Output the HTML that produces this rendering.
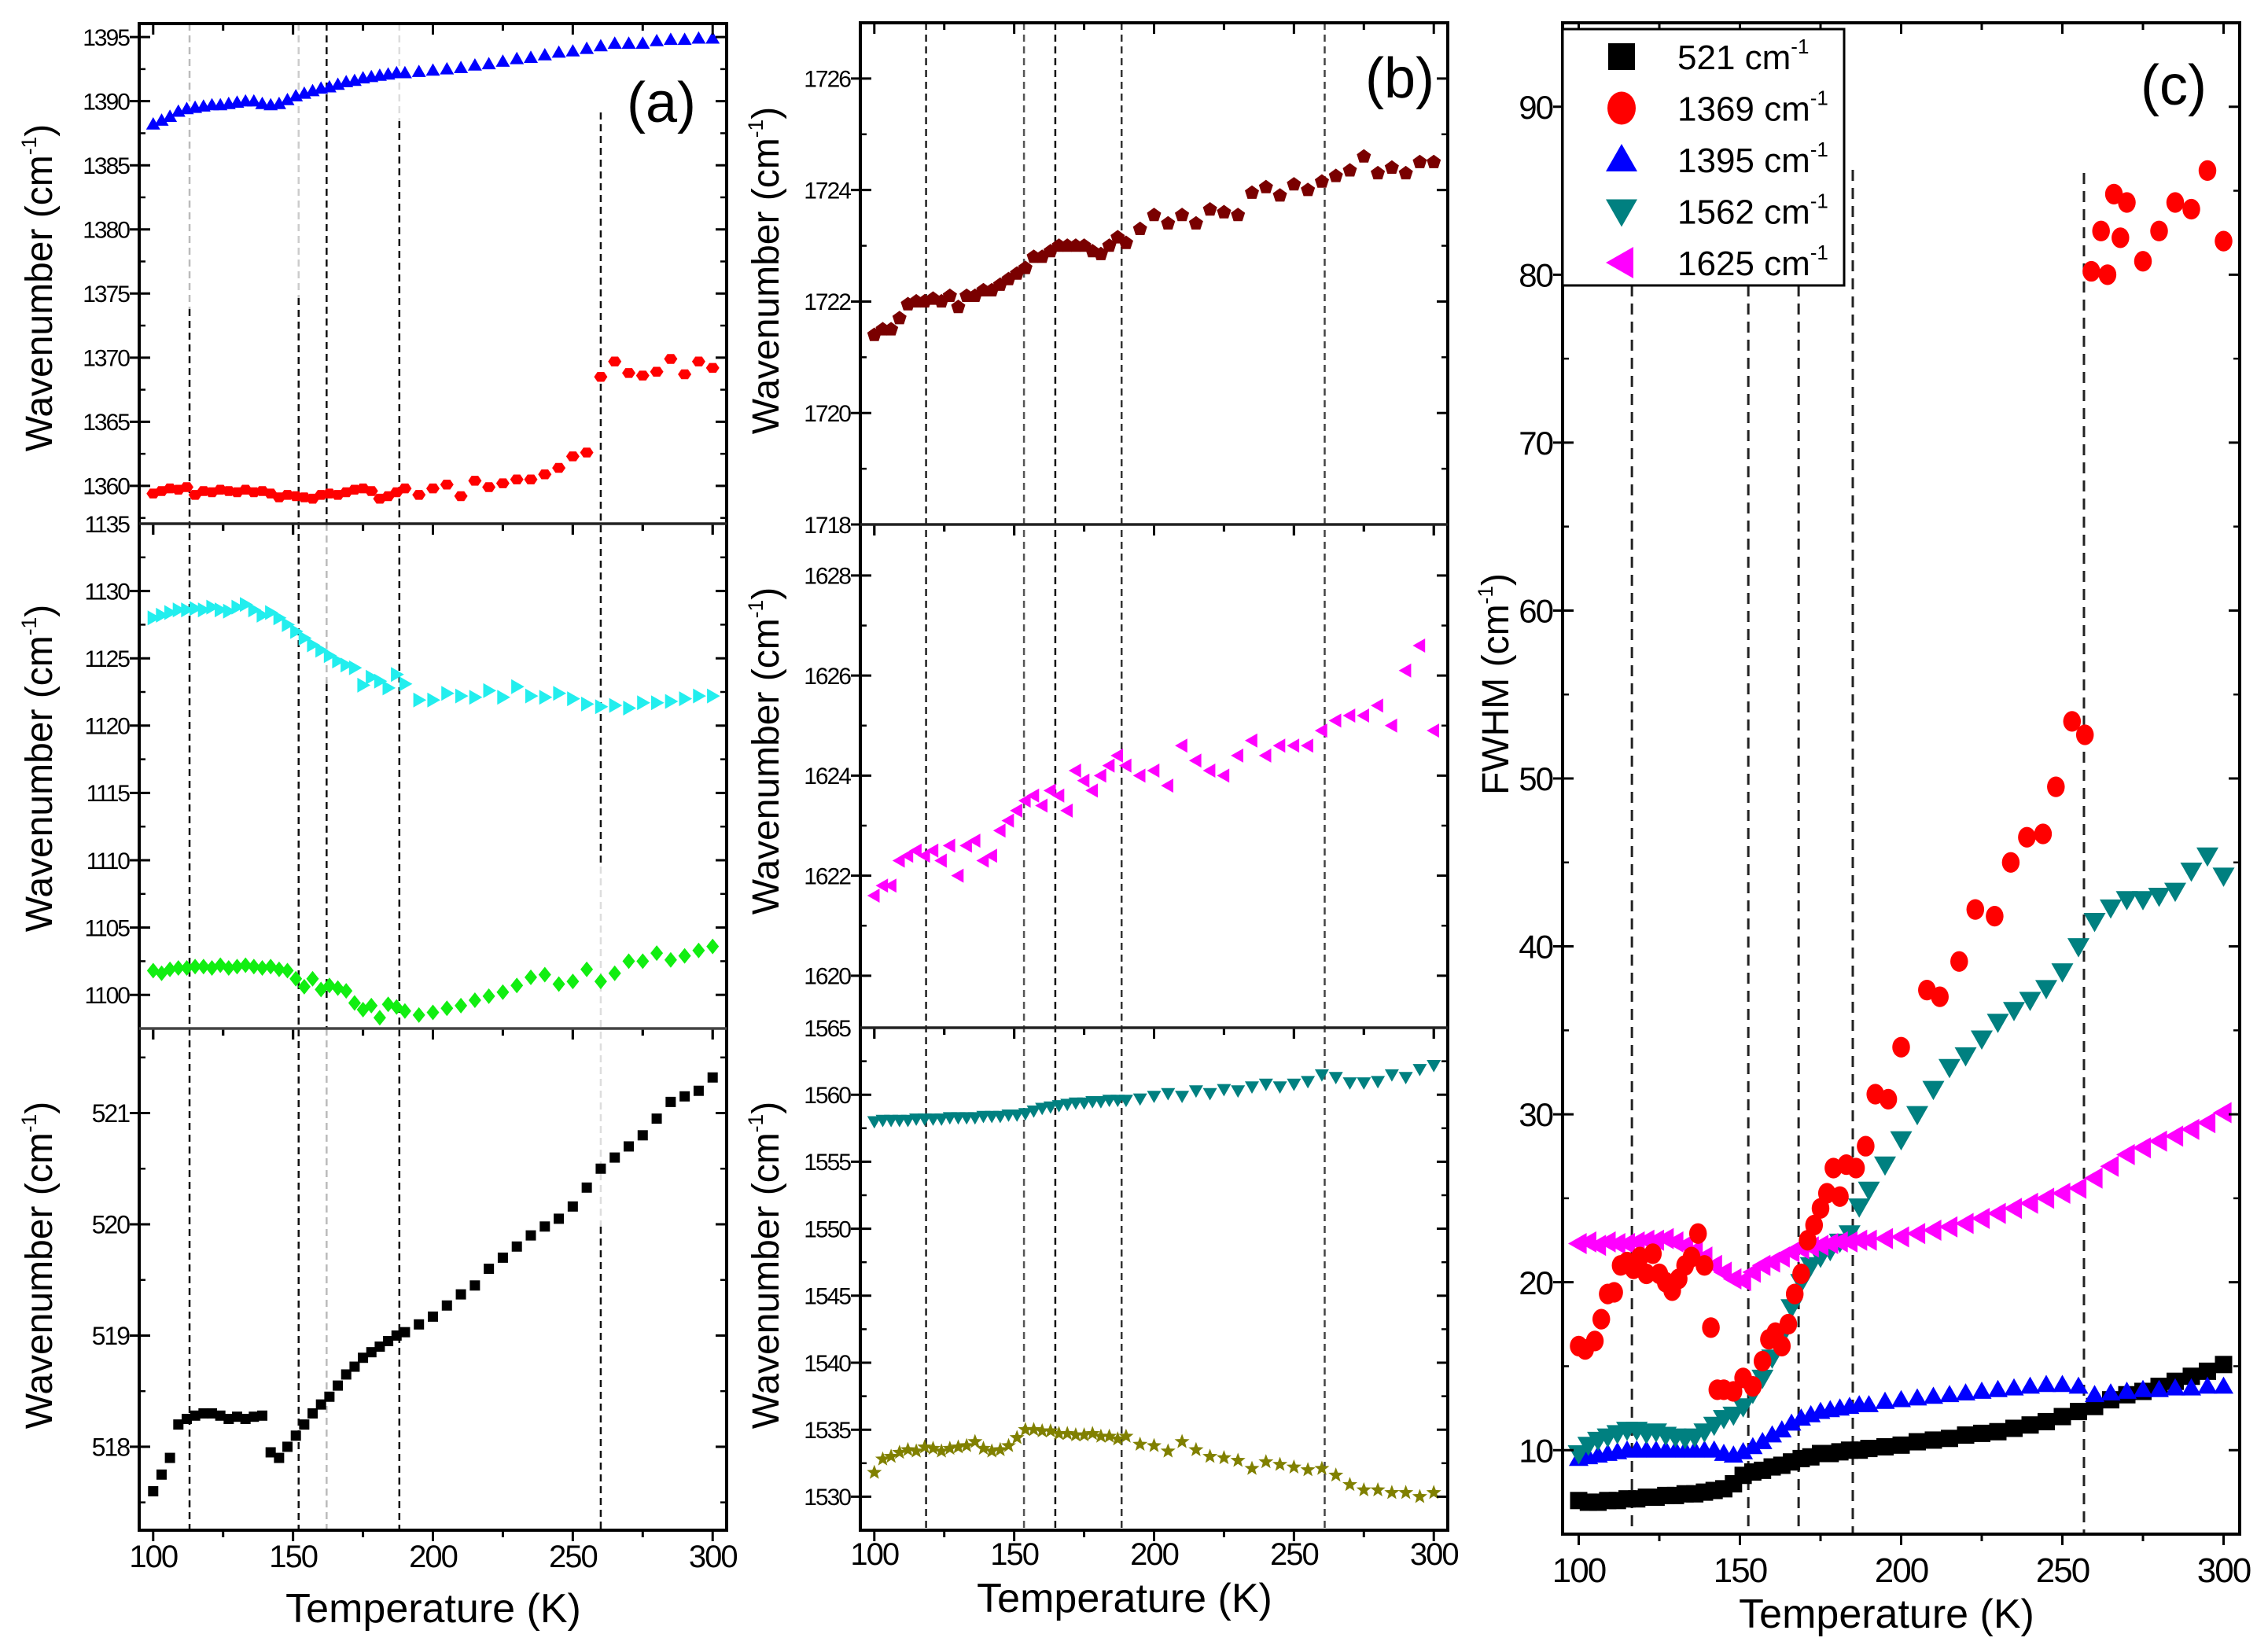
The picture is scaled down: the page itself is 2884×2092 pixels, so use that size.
<!DOCTYPE html>
<html><head><meta charset="utf-8"><style>
html,body{margin:0;padding:0;background:#fff;}
svg{display:block;font-family:"Liberation Sans",Arial,sans-serif;}
</style></head><body>
<svg id="fig" width="2884" height="2092" viewBox="0 0 2884 2092" xmlns="http://www.w3.org/2000/svg"></svg>
<script>
const T = [100,103,106,109,112,115,118,121,124,127,130,133,136,139,142,145,148,151,154,157,160,163,166,169,172,175,178,181,184,187,190,195,200,205,210,215,220,225,230,235,240,245,250,255,260,265,270,275,280,285,290,295,300];
const a1395 = [1388.2,1388.5,1388.8,1389.2,1389.4,1389.5,1389.6,1389.7,1389.7,1389.8,1389.9,1390,1390,1389.8,1389.7,1389.8,1390.1,1390.4,1390.6,1390.8,1391,1391.1,1391.3,1391.5,1391.6,1391.8,1391.9,1392,1392.1,1392.2,1392.2,1392.3,1392.4,1392.5,1392.6,1392.8,1392.9,1393.1,1393.3,1393.4,1393.6,1393.8,1393.9,1394.1,1394.3,1394.5,1394.5,1394.5,1394.7,1394.8,1394.8,1394.9,1394.9];
const a1369 = [1359.4,1359.6,1359.8,1359.7,1359.9,1359.3,1359.6,1359.5,1359.7,1359.6,1359.5,1359.7,1359.5,1359.6,1359.4,1359.1,1359.3,1359.2,1359.1,1359.0,1359.3,1359.4,1359.3,1359.5,1359.7,1359.8,1359.6,1359.0,1359.2,1359.5,1359.8,1359.3,1359.8,1360.1,1359.2,1360.4,1359.9,1360.2,1360.5,1360.5,1360.9,1361.4,1362.3,1362.6,1368.5,1369.7,1368.8,1368.6,1368.9,1369.9,1368.7,1369.7,1369.2];
const a1120 = [1128,1128.2,1128.4,1128.6,1128.6,1128.7,1128.6,1128.8,1128.6,1128.5,1128.8,1129,1128.6,1128.2,1128.4,1128,1127.5,1127,1126.5,1126,1125.6,1125.2,1124.8,1124.5,1124.3,1123,1123.6,1123.3,1122.8,1123.8,1123.1,1121.9,1121.9,1122.4,1122.2,1122.1,1122.6,1122.1,1122.9,1122.2,1122.1,1122.4,1122,1121.6,1121.4,1121.5,1121.3,1121.7,1121.7,1121.8,1122,1122.2,1122.2];
const a1102 = [1101.8,1101.6,1101.9,1102,1102,1102.1,1102.1,1102,1102.2,1102,1102.1,1102.2,1102.1,1102,1102.1,1101.9,1101.8,1101.2,1100.6,1101.2,1100.4,1100.7,1100.5,1100.3,1099.4,1098.9,1099.2,1098.3,1099.3,1099.1,1098.8,1098.5,1098.7,1099,1099.2,1099.6,1099.9,1100.2,1100.7,1101.3,1101.5,1100.8,1101,1101.9,1101,1101.6,1102.5,1102.5,1103.1,1102.6,1102.9,1103.3,1103.6];
const a521 = [517.6,517.75,517.9,518.2,518.25,518.28,518.3,518.3,518.28,518.25,518.27,518.25,518.27,518.28,517.95,517.9,518.0,518.1,518.2,518.3,518.38,518.45,518.55,518.65,518.72,518.8,518.85,518.9,518.95,519.0,519.03,519.1,519.17,519.27,519.37,519.45,519.6,519.7,519.8,519.9,519.98,520.05,520.16,520.33,520.5,520.6,520.7,520.8,520.95,521.1,521.15,521.2,521.32];
const b1725 = [1721.4,1721.5,1721.5,1721.7,1721.95,1722,1722,1722.05,1722.0,1722.1,1721.9,1722.1,1722.1,1722.2,1722.2,1722.3,1722.4,1722.5,1722.6,1722.8,1722.8,1722.9,1723,1723,1723,1723,1722.9,1722.85,1723.0,1723.15,1723.05,1723.3,1723.55,1723.4,1723.55,1723.4,1723.65,1723.6,1723.55,1723.95,1724.05,1723.9,1724.1,1724.0,1724.15,1724.25,1724.35,1724.6,1724.3,1724.4,1724.3,1724.5,1724.5];
const b1625 = [1621.6,1621.8,1621.8,1622.3,1622.4,1622.5,1622.4,1622.5,1622.3,1622.6,1622,1622.6,1622.7,1622.3,1622.4,1622.9,1623.1,1623.3,1623.5,1623.6,1623.4,1623.7,1623.6,1623.3,1624.1,1623.9,1623.7,1624,1624.2,1624.4,1624.2,1624.0,1624.1,1623.8,1624.6,1624.3,1624.1,1624.0,1624.4,1624.7,1624.4,1624.6,1624.6,1624.6,1624.9,1625.1,1625.2,1625.2,1625.4,1625.0,1626.1,1626.6,1624.9];
const b1562 = [1558.0,1558.1,1558.1,1558.1,1558.1,1558.2,1558.2,1558.2,1558.2,1558.3,1558.3,1558.3,1558.3,1558.4,1558.4,1558.4,1558.5,1558.5,1558.6,1558.8,1559.0,1559.1,1559.2,1559.3,1559.4,1559.4,1559.5,1559.5,1559.6,1559.6,1559.6,1559.7,1559.9,1560.1,1559.9,1560.3,1560.1,1560.4,1560.3,1560.6,1560.8,1560.6,1560.8,1561.0,1561.5,1561.3,1560.9,1560.9,1561.0,1561.5,1561.3,1561.9,1562.2];
const b1530 = [1531.8,1532.8,1533.0,1533.3,1533.5,1533.4,1533.7,1533.6,1533.4,1533.6,1533.7,1533.8,1534.1,1533.6,1533.4,1533.5,1533.8,1534.4,1535,1535.0,1534.9,1534.9,1534.7,1534.7,1534.6,1534.6,1534.7,1534.5,1534.5,1534.3,1534.5,1533.9,1533.8,1533.4,1534.1,1533.5,1533.0,1532.9,1532.7,1532.1,1532.6,1532.4,1532.2,1532.0,1532.1,1531.6,1530.9,1530.5,1530.5,1530.3,1530.3,1530.0,1530.3];
const c521 = [7.0,6.9,6.9,7.0,7.0,7.1,7.1,7.2,7.2,7.3,7.3,7.4,7.4,7.5,7.6,7.7,8.0,8.5,8.7,8.8,9.0,9.1,9.3,9.5,9.6,9.8,9.8,9.9,10.0,10.0,10.1,10.2,10.3,10.5,10.6,10.7,10.9,11.0,11.1,11.3,11.5,11.7,12.0,12.3,12.6,13.0,13.3,13.5,13.8,14.1,14.4,14.7,15.1];
const c1395 = [9.5,9.6,9.7,9.8,9.9,10.0,10.0,10.0,10.0,10.0,10.0,10.0,10.0,10.0,10.0,9.8,9.7,9.9,10.2,10.5,10.9,11.2,11.6,11.9,12.1,12.3,12.4,12.5,12.6,12.7,12.7,12.9,13.0,13.1,13.2,13.3,13.4,13.5,13.6,13.7,13.8,13.9,13.9,13.8,13.3,13.4,13.5,13.6,13.6,13.7,13.7,13.8,13.8];
const c1562 = [9.8,10.3,10.6,10.8,11.0,11.2,11.2,11.0,11.1,10.9,10.8,10.7,10.8,11.1,11.5,11.9,12.1,12.6,13.4,14.3,15.5,16.8,18.5,20.0,21.0,21.5,21.9,22.4,22.9,24.5,25.5,27.0,28.5,30.0,31.5,32.8,33.5,34.5,35.5,36.2,36.8,37.5,38.5,40.0,41.5,42.3,42.8,42.8,43.0,43.3,44.5,45.4,44.2];
const c1625 = [22.3,22.4,22.2,22.4,22.3,22.3,22.4,22.5,22.5,22.6,22.4,22.2,21.9,21.5,21.0,20.6,20.2,20.1,20.6,21.0,21.2,21.5,21.8,22.0,22.1,22.2,22.3,22.4,22.4,22.5,22.5,22.6,22.7,22.9,23.1,23.3,23.5,23.8,24.1,24.4,24.7,25.0,25.3,25.6,26.2,26.9,27.6,28.0,28.4,28.7,29.1,29.5,30.1];
const cRedT = [100,102,105,107,109,111,113,115,117,119,121,123,125,127,129,131,133,135,137,139,141,143,145,148,151,154,157,159,161,163,165,167,169,171,173,175,177,179,181,183,186,189,192,196,200,208,212,218,223,229,234,239,244,248,253,257,259,262,264,266,268,270,275,280,285,290,295,300];
const c1369 = [16.2,16.0,16.5,17.8,19.3,19.4,21.0,21.2,20.8,21.5,20.5,21.7,20.5,20.0,19.5,20.2,21.0,21.5,22.9,21.0,17.3,13.6,13.6,13.5,14.3,13.8,15.3,16.6,17.0,16.2,17.5,19.3,20.5,22.5,23.4,24.4,25.3,26.8,25.1,27.0,26.8,28.1,31.2,30.9,34.0,37.4,37.0,39.1,42.2,41.8,45.0,46.5,46.7,49.5,53.4,52.6,80.2,82.6,80.0,84.8,82.2,84.3,80.8,82.6,84.3,83.9,86.2,82.0];
const xTicks = [100,150,200,250,300];
const legendLabels = ['521','1369','1395','1562','1625'];

const NS='http://www.w3.org/2000/svg';
const svg=document.getElementById('fig');
function mk(tag,parent){const e=document.createElementNS(NS,tag);parent.appendChild(e);return e;}
function sx(p,t){return p.x0+(t-p.tmin)/(p.tmax-p.tmin)*(p.x1-p.x0);}
function sy(p,v){return p.y1-(v-p.vmin)/(p.vmax-p.vmin)*(p.y1-p.y0);}

function shapePts(shape,cx,cy,s){
  const h=s/2;let pts=[];
  if(shape==='up')pts=[[cx,cy-h],[cx+h,cy+h*0.75],[cx-h,cy+h*0.75]];
  else if(shape==='down')pts=[[cx,cy+h],[cx+h,cy-h*0.75],[cx-h,cy-h*0.75]];
  else if(shape==='left')pts=[[cx-h,cy],[cx+h*0.75,cy-h],[cx+h*0.75,cy+h]];
  else if(shape==='right')pts=[[cx+h,cy],[cx-h*0.75,cy-h],[cx-h*0.75,cy+h]];
  else if(shape==='diamond')pts=[[cx,cy-h],[cx+h*0.8,cy],[cx,cy+h],[cx-h*0.8,cy]];
  else if(shape==='hex'){for(let i=0;i<6;i++){const a=Math.PI/3*i;pts.push([cx+h*Math.cos(a),cy+h*0.85*Math.sin(a)]);}}
  else if(shape==='pent'){for(let i=0;i<5;i++){const a=-Math.PI/2+2*Math.PI/5*i;pts.push([cx+h*Math.cos(a),cy+h*Math.sin(a)]);}}
  else if(shape==='star'){for(let i=0;i<10;i++){const a=-Math.PI/2+Math.PI/5*i;const r=i%2?h*0.42:h;pts.push([cx+r*Math.cos(a),cy+r*Math.sin(a)]);}}
  return pts.map(q=>q[0].toFixed(1)+','+q[1].toFixed(1)).join(' ');
}
function marker(g,shape,cx,cy,s,color){
  let m;
  if(shape==='square'){m=mk('rect',g);m.setAttribute('x',cx-s/2);m.setAttribute('y',cy-s/2);m.setAttribute('width',s);m.setAttribute('height',s);}
  else if(shape==='circle'){m=mk('ellipse',g);m.setAttribute('cx',cx);m.setAttribute('cy',cy);m.setAttribute('rx',s/2*0.9);m.setAttribute('ry',s/2*1.05);}
  else{m=mk('polygon',g);m.setAttribute('points',shapePts(shape,cx,cy,s));}
  m.setAttribute('fill',color);
  return m;
}
function series(p,xs,ys,shape,s,color,name){
  const g=mk('g',svg);
  
  
  for(let i=0;i<xs.length;i++){
    const m=marker(g,shape,sx(p,xs[i]),sy(p,ys[i]),s,color);
    
    
  }
}
function text(x,y,str,size,anchor,name,extra){
  const t=mk('text',svg);
  t.setAttribute('x',x);t.setAttribute('y',y);t.setAttribute('font-size',size);
  t.setAttribute('text-anchor',anchor);t.setAttribute('fill','#000');
  if(extra)for(const k in extra)t.setAttribute(k,extra[k]);
  t.textContent=str;
  
  
  return t;
}
function line(x1,y1,x2,y2,w,color,dash,name){
  const l=mk('line',svg);
  l.setAttribute('x1',x1);l.setAttribute('y1',y1);l.setAttribute('x2',x2);l.setAttribute('y2',y2);
  l.setAttribute('stroke',color);l.setAttribute('stroke-width',w);
  if(dash)l.setAttribute('stroke-dasharray',dash);
  
  
  return l;
}
function ylabel(x,y,size,main,name){
  const t=mk('text',svg);
  t.setAttribute('transform','translate('+x+','+y+') rotate(-90)');
  t.setAttribute('font-size',size);t.setAttribute('text-anchor','middle');
  t.appendChild(document.createTextNode(main+' (cm'));
  const s=mk('tspan',t);s.setAttribute('font-size',size*0.55);s.setAttribute('dy',-size*0.42);s.textContent='-1';
  const e=mk('tspan',t);e.setAttribute('dy',size*0.42);e.textContent=')';
  
  
}
function yAxis(p,major,minorStep,labels,fs,name,edgeLabel){
  for(let v=Math.ceil(p.vmin/minorStep)*minorStep;v<=p.vmax+1e-9;v+=minorStep){
    const y=sy(p,v);
    if(Math.abs(y-p.y0)<3||Math.abs(y-p.y1)<3)continue;
    line(p.x0,y,p.x0+8,y,2.5,'#000',null,name+'-minor-tick');
    line(p.x1,y,p.x1-8,y,2.5,'#000',null,name+'-minor-tick');
  }
  major.forEach((v,i)=>{
    const y=sy(p,v);
    line(p.x0-12,y,p.x0+14,y,3,'#000',null,name+'-major-tick');
    line(p.x1,y,p.x1-14,y,3,'#000',null,name+'-major-tick');
    text(p.x0-13,y+fs*0.36,labels[i],fs,'end',name+'-tick-label',{'letter-spacing':'-2'});
  });
  if(edgeLabel)text(p.x0-13,p.y0+fs*0.36,edgeLabel,fs,'end',name+'-edge-label',{'letter-spacing':'-2'});
}
function xTicksDraw(p,withLabels,fs,ly,name){
  for(let t=100;t<=300;t+=25){
    const x=sx(p,t);const major=(t%50===0);
    line(x,p.y1,x,p.y1+(major?14:9),3,'#000',null,name+'-x-tick');
    line(x,p.y0,x,p.y0+(major?14:9),3,'#000',null,name+'-x-tick');
  }
  if(withLabels)xTicks.forEach(t=>text(sx(p,t),ly,String(t),fs,'middle',name+'-x-tick-label',{'letter-spacing':'-2'}));
}
function frame(x0,y0,x1,y1,name){
  const r=mk('rect',svg);
  r.setAttribute('x',x0);r.setAttribute('y',y0);r.setAttribute('width',x1-x0);r.setAttribute('height',y1-y0);
  r.setAttribute('fill','none');r.setAttribute('stroke','#000');r.setAttribute('stroke-width',4);
  
  
}

const aX={x0:177,x1:924,tmin:95,tmax:305};
const a1={...aX,y0:30,y1:666,vmin:1357.05,vmax:1396.05};
const a2={...aX,y0:666,y1:1308,vmin:1097.5,vmax:1135};
const a3={...aX,y0:1308,y1:1946,vmin:517.25,vmax:521.76};
const aDash=[[113,30,393,'#bbb'],[113,393,1946,'#111'],[152,30,379,'#ccc'],[152,379,1946,'#111'],[162,30,666,'#111'],[162,666,870,'#bbb'],[162,870,1308,'#111'],[162,1308,1946,'#bbb'],[188,30,154,'#ddd'],[188,154,1946,'#111'],[260,143,1102,'#111'],[260,1102,1560,'#ddd'],[260,1560,1946,'#111']];
aDash.forEach(d=>line(sx(aX,d[0]),d[1],sx(aX,d[0]),d[2],2.5,d[3],'9 6','panel-a-transition-line'));
const bX={x0:1094,x1:1841,tmin:95,tmax:305};
const b1={...bX,y0:29,y1:667,vmin:1718,vmax:1727};
const b2={...bX,y0:667,y1:1307,vmin:1618.96,vmax:1629.02};
const b3={...bX,y0:1307,y1:1946,vmin:1527.5,vmax:1565};
const bDash=[[118.5,29,1946,'#222'],[153.5,29,1946,'#555'],[164.7,29,1946,'#111'],[188.4,29,1946,'#333'],[261,29,1946,'#444']];
bDash.forEach(d=>line(sx(bX,d[0]),d[1],sx(bX,d[0]),d[2],2.5,d[3],'9 6','panel-b-transition-line'));
const c={x0:1987,x1:2848,tmin:95,tmax:305,y0:29,y1:1951,vmin:5,vmax:95};
const cDash=[[116.5,363],[152.6,363],[168.2,363],[185,216],[256.7,220]];
cDash.forEach(d=>line(sx(c,d[0]),d[1],sx(c,d[0]),1951,3,'#222','14 9','panel-c-transition-line'));

series(a1,T,a1395,'up',18,'#0000ff','a-1395');
series(a1,T,a1369,'hex',17,'#ff0000','a-1369');
series(a2,T,a1120,'right',19,'#22eeee','a-1120');
series(a2,T,a1102,'diamond',20,'#11ee11','a-1102');
series(a3,T,a521,'square',13,'#000000','a-521');
series(b1,T,b1725,'pent',19,'#7a0000','b-1725');
series(b2,T,b1625,'left',18,'#ff00ff','b-1625');
series(b3,T,b1562,'down',18,'#008080','b-1562');
series(b3,T,b1530,'star',20,'#808000','b-1530');
series(c,T,c521,'square',22,'#000000','c-521');
series(c,T,c1395,'up',25,'#0000ff','c-1395');
series(c,T,c1562,'down',28,'#008080','c-1562');
series(c,T,c1625,'left',27,'#ff00ff','c-1625');
series(c,cRedT,c1369,'circle',25,'#ff0000','c-1369');

yAxis(a1,[1360,1365,1370,1375,1380,1385,1390,1395],2.5,['1360','1365','1370','1375','1380','1385','1390','1395'],30,'panel-a-top-y');
yAxis(a2,[1100,1105,1110,1115,1120,1125,1130],2.5,['1100','1105','1110','1115','1120','1125','1130'],30,'panel-a-mid-y','1135');
yAxis(a3,[518,519,520,521],0.5,['518','519','520','521'],32,'panel-a-bottom-y');
[a1,a2,a3].forEach((p,i)=>xTicksDraw(p,i===2,40,1993,'panel-a'));
frame(177,30,924,1946,'panel-a-frame');
line(177,666,924,666,3.5,'#222',null,'panel-a-divider');
line(177,1308,924,1308,3.5,'#444',null,'panel-a-divider');
yAxis(b1,[1718,1720,1722,1724,1726],1,['1718','1720','1722','1724','1726'],30,'panel-b-top-y');
yAxis(b2,[1620,1622,1624,1626,1628],1,['1620','1622','1624','1626','1628'],30,'panel-b-mid-y');
yAxis(b3,[1530,1535,1540,1545,1550,1555,1560],2.5,['1530','1535','1540','1545','1550','1555','1560'],30,'panel-b-bottom-y','1565');
[b1,b2,b3].forEach((p,i)=>xTicksDraw(p,i===2,40,1990,'panel-b'));
frame(1094,29,1841,1946,'panel-b-frame');
line(1094,667,1841,667,3.5,'#222',null,'panel-b-divider');
line(1094,1307,1841,1307,3.5,'#222',null,'panel-b-divider');
yAxis(c,[10,20,30,40,50,60,70,80,90],5,['10','20','30','40','50','60','70','80','90'],42,'panel-c-y');
xTicksDraw(c,true,44,2012,'panel-c');
frame(1987,29,2848,1951,'panel-c-frame');

const lg=mk('rect',svg);
lg.setAttribute('x',1987);lg.setAttribute('y',37);lg.setAttribute('width',358);lg.setAttribute('height',326);
lg.setAttribute('fill','#fff');lg.setAttribute('stroke','#000');lg.setAttribute('stroke-width',3);


const legShapes=['square','circle','up','down','left'];
const legColors=['#000000','#ff0000','#0000ff','#008080','#ff00ff'];
legendLabels.forEach((lab,i)=>{
  const y=72+i*65.5;
  const g=mk('g',svg);
  
  
  marker(g,legShapes[i],2062,y,i===0?34:40,legColors[i]);
  const t=mk('text',g);
  t.setAttribute('x',2133);t.setAttribute('y',y+16);t.setAttribute('font-size',44);
  t.appendChild(document.createTextNode(lab+' cm'));
  const s=mk('tspan',t);s.setAttribute('font-size',26);s.setAttribute('dy',-20);s.textContent='-1';
});

ylabel(66,366,48,'Wavenumber','panel-a-top-y-title');
ylabel(66,977,48,'Wavenumber','panel-a-mid-y-title');
ylabel(66,1609,48,'Wavenumber','panel-a-bottom-y-title');
ylabel(990,344,48,'Wavenumber','panel-b-top-y-title');
ylabel(990,955,48,'Wavenumber','panel-b-mid-y-title');
ylabel(990,1609,48,'Wavenumber','panel-b-bottom-y-title');
ylabel(1918,870,48,'FWHM','panel-c-y-title');
text(551,2063,'Temperature (K)',52,'middle','panel-a-x-title');
text(1430,2050,'Temperature (K)',52,'middle','panel-b-x-title');
text(2399,2070,'Temperature (K)',52,'middle','panel-c-x-title');
text(841,155,'(a)',72,'middle','panel-a-label');
text(1780,124,'(b)',72,'middle','panel-b-label');
text(2764,133,'(c)',72,'middle','panel-c-label');
</script>
</body></html>
